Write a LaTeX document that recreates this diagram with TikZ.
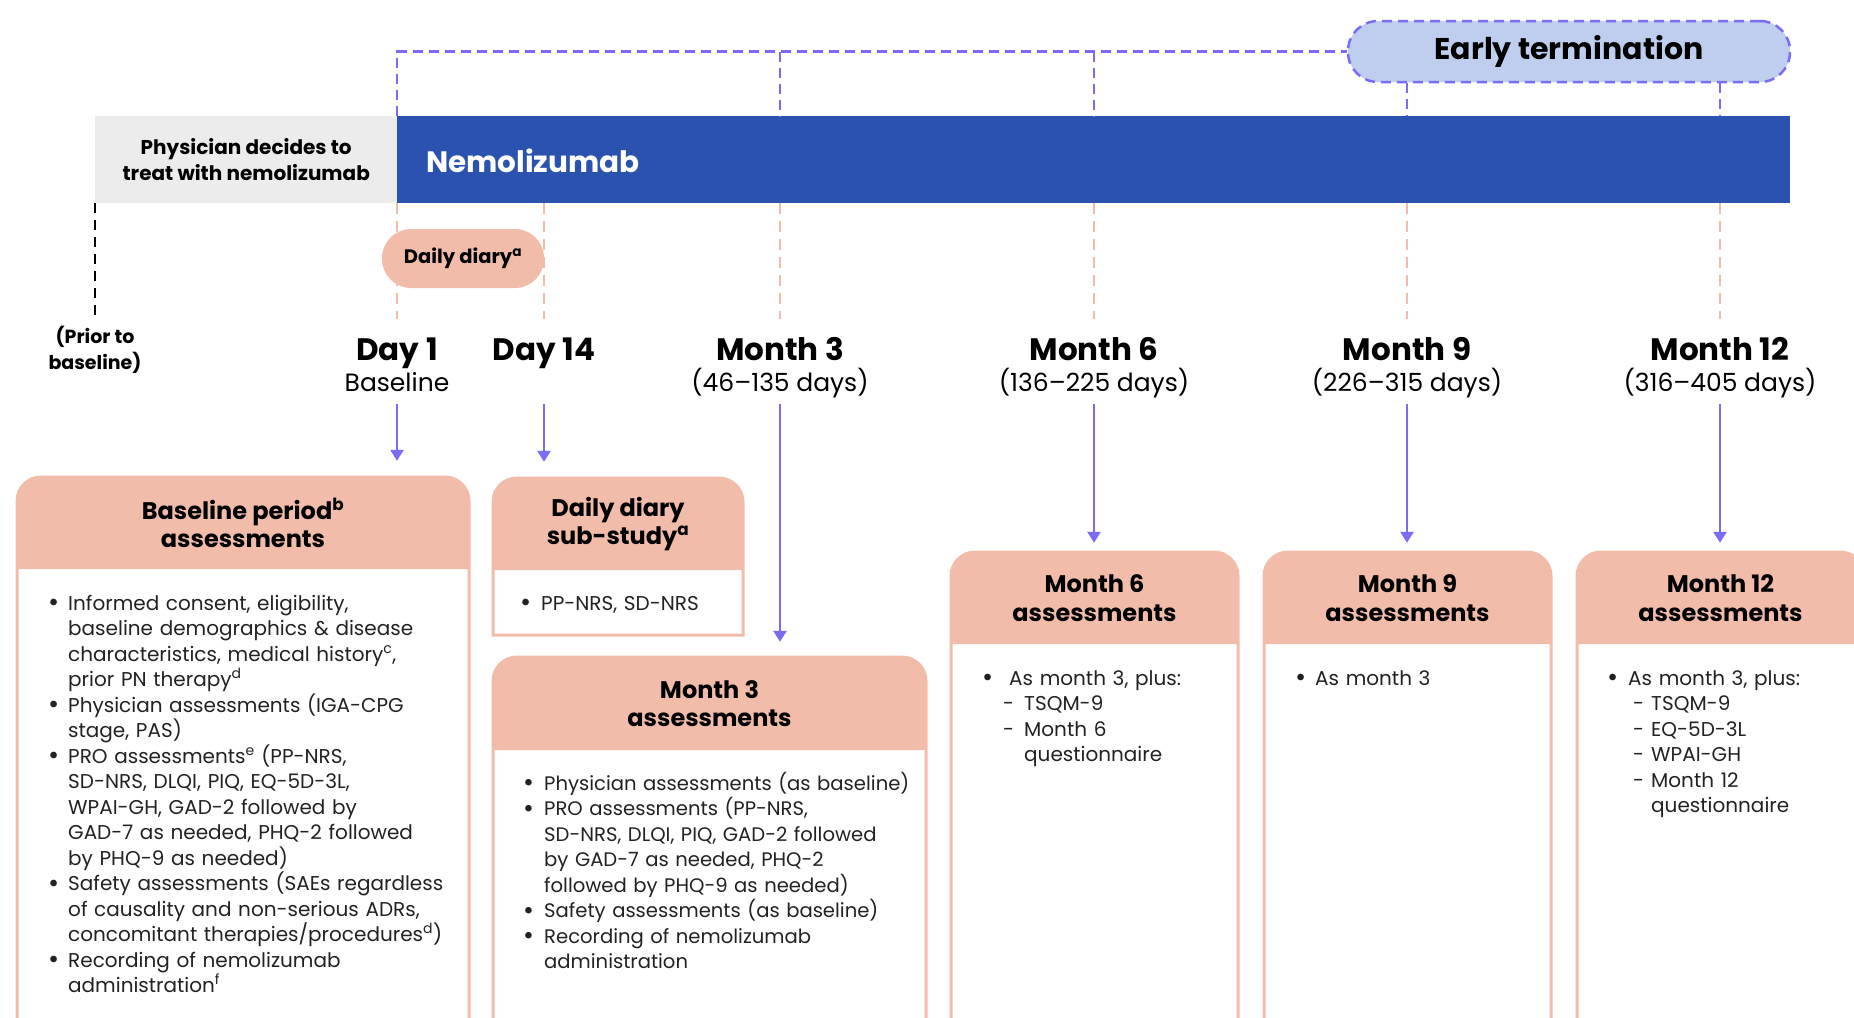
\documentclass[tikz,border=0pt]{standalone}
\usepackage{fontspec}
\setmainfont{Poppins}
\usetikzlibrary{arrows.meta}
\definecolor{purp}{HTML}{7B6CF6}
\definecolor{navy}{HTML}{2A52AE}
\definecolor{sal}{HTML}{F2BCAA}
\definecolor{lav}{HTML}{BFCDEF}
\definecolor{gry}{HTML}{ECECEC}
\definecolor{ink}{HTML}{222222}
\newcommand\bigbul{\raisebox{-0.09em}{\scalebox{1.35}{\textbullet}}}
\newcommand\bul[2]{\par\hangindent=#1\hangafter=1\noindent\hbox to #1{\bigbul\hfil}#2\par}
\newcommand\dsh[3]{\par\hangindent=#2\hangafter=1\noindent\hbox to #2{\hspace*{#1}-\hfil}#3\par}
\newcommand\abox[5]{%
\fill[white] (#1,#5) -- (#1,#3+24) .. controls (#1,#3+10.75) and (#1+10.75,#3) .. (#1+24,#3) -- (#2-24,#3) .. controls (#2-10.75,#3) and (#2,#3+10.75) .. (#2,#3+24) -- (#2,#5) -- cycle;
\fill[sal] (#1,#4) -- (#1,#3+24) .. controls (#1,#3+10.75) and (#1+10.75,#3) .. (#1+24,#3) -- (#2-24,#3) .. controls (#2-10.75,#3) and (#2,#3+10.75) .. (#2,#3+24) -- (#2,#4) -- cycle;
\draw[sal, line width=3pt] (#1,#5) -- (#1,#3+24) .. controls (#1,#3+10.75) and (#1+10.75,#3) .. (#1+24,#3) -- (#2-24,#3) .. controls (#2-10.75,#3) and (#2,#3+10.75) .. (#2,#3+24) -- (#2,#5) -- cycle;}
\tikzset{
 pdash/.style={draw=purp, line width=2.5pt, dash pattern=on 10pt off 6pt},
 sdash/.style={draw=sal, line width=2.2pt, dash pattern=on 11pt off 7pt},
 kdash/.style={draw=black, line width=2.5pt, dash pattern=on 10pt off 7pt},
 arr/.style={draw=purp, line width=2.5pt, -{Triangle[length=11pt,width=13pt]}},
 tlab/.style={font=\fontsize{31}{36}\selectfont\bfseries, inner sep=0pt, anchor=base},
 dlab/.style={font=\fontsize{25}{30}\selectfont, inner sep=0pt, anchor=base},
 hdr/.style={font=\fontsize{24}{28.5}\selectfont\bfseries, align=center, inner sep=0pt},
 body/.style={font=\fontsize{20}{25.5}\selectfont, text=ink, text width=440pt, align=left, inner sep=0pt, anchor=base west},
}
\begin{document}
\begin{tikzpicture}[x=1pt,y=-1pt]
\useasboundingbox (0,0) rectangle (1854,1017);
\clip (0,0) rectangle (1854,1017);
% bars
\node[fill=gry, minimum width=302, minimum height=87, anchor=north west, inner sep=0pt, align=center,
  font=\fontsize{20}{26}\selectfont\bfseries] (phys) at (95,116) {Physician decides to\\treat with nemolizumab};
\node[fill=navy, minimum width=1393, minimum height=87, anchor=north west, inner sep=0pt] (bar) at (397,116) {};
\node[anchor=west, text=white, font=\fontsize{29.5}{34}\selectfont\bfseries, inner sep=0pt] (nemo) at (426,161) {Nemolizumab};
% early termination
\node[fill=lav, draw=purp, line width=2.5pt, dash pattern=on 10pt off 6pt, rounded corners=30pt,
  minimum width=442, minimum height=61, inner sep=0pt, font=\fontsize{30}{34}\selectfont\bfseries] (et) at (1569,51.5) {Early termination};
% timepoint labels
\node[tlab] (t1) at (397,360) {Day 1};
\node[dlab] (t1s) at (397,391) {Baseline};
\node[tlab] (t2) at (544,360) {Day 14};
\node[tlab] (t3) at (780,360) {Month 3};
\node[dlab] (t3s) at (780,391) {(46–135 days)};
\node[tlab] (t4) at (1094,360) {Month 6};
\node[dlab] (t4s) at (1094,391) {(136–225 days)};
\node[tlab] (t5) at (1407,360) {Month 9};
\node[dlab] (t5s) at (1407,391) {(226–315 days)};
\node[tlab] (t6) at (1720,360) {Month 12};
\node[dlab] (t6s) at (1720,391) {(316–405 days)};
\node[anchor=base, inner sep=0pt, align=center, font=\fontsize{19}{26}\selectfont\bfseries] (prior) at (95,369.5) {(Prior to\\baseline)};
% dashed connectors
\draw[pdash] (bar.north west) |- (et.west);
\draw[pdash] (t3 |- et.west) -- (t3 |- bar.north);
\draw[pdash] (t4 |- et.west) -- (t4 |- bar.north);
\draw[pdash] (t5 |- et.south) -- (t5 |- bar.north);
\draw[pdash] (t6 |- et.south) -- (t6 |- bar.north);
\foreach \t in {t1,t2,t3,t4,t5,t6}{\draw[sdash, shorten >=41pt] (\t |- bar.south) -- (\t.base);}
\draw[kdash, shorten >=50.5pt] (phys.south west) -- (prior.base);
\node[fill=sal, rounded corners=29pt, minimum width=162, minimum height=59, inner sep=0pt,
  font=\fontsize{19.5}{24}\selectfont\bfseries] (dd) at (463,258.5) {Daily diary\textsuperscript{a}};
% boxes
\abox{17}{469}{477}{569}{1040}
\abox{493}{743}{478}{570}{635}
\abox{493}{926}{657}{750}{1040}
\abox{951}{1238}{552}{644}{1040}
\abox{1264}{1551}{552}{644}{1040}
\abox{1577}{1864}{552}{644}{1040}
\node[hdr, minimum width=452, minimum height=92] (b1) at (243,523) {Baseline period\textsuperscript{b}\\assessments};
\node[hdr, minimum width=250, minimum height=92] (b2) at (618,524) {Daily diary\\sub-study\textsuperscript{a}};
\node[hdr, minimum width=433, minimum height=93] (b3) at (709.5,703.5) {Month 3\\assessments};
\node[hdr, minimum width=287, minimum height=92] (b4) at (1094.5,598) {Month 6\\assessments};
\node[hdr, minimum width=287, minimum height=92] (b5) at (1407.5,598) {Month 9\\assessments};
\node[hdr, minimum width=287, minimum height=92] (b6) at (1720.5,598) {Month 12\\assessments};
\node[body] (b1t) at (48,584.5) {%
\bul{20pt}{Informed consent, eligibility,\newline baseline demographics \& disease\newline characteristics, medical history\textsuperscript{c},\newline prior PN therapy\textsuperscript{d}}%
\bul{20pt}{Physician assessments (IGA-CPG\newline stage, PAS)}%
\bul{20pt}{PRO assessments\textsuperscript{e} (PP-NRS,\newline SD-NRS, DLQI, PIQ, EQ-5D-3L,\newline WPAI-GH, GAD-2 followed by\newline GAD-7 as needed, PHQ-2 followed\newline by PHQ-9 as needed)}%
\bul{20pt}{Safety assessments (SAEs regardless\newline of causality and non-serious ADRs,\newline concomitant therapies/procedures\textsuperscript{d})}%
\bul{20pt}{Recording of nemolizumab\newline administration\textsuperscript{f}}};
\node[body] (b2t) at (520,584.5) {\bul{21pt}{PP-NRS, SD-NRS}};
\node[body, font=\fontsize{19.6}{25.5}\selectfont] (b3t) at (523,764.5) {%
\bul{21pt}{Physician assessments (as baseline)}%
\bul{21pt}{PRO assessments (PP-NRS,\newline SD-NRS, DLQI, PIQ, GAD-2 followed\newline by GAD-7 as needed, PHQ-2\newline followed by PHQ-9 as needed)}%
\bul{21pt}{Safety assessments (as baseline)}%
\bul{21pt}{Recording of nemolizumab\newline administration}};
\node[body] (b4t) at (982,659.5) {%
\bul{27pt}{As month 3, plus:}%
\dsh{21pt}{42pt}{TSQM-9}%
\dsh{21pt}{42pt}{Month 6\newline questionnaire}};
\node[body] (b5t) at (1295,659.5) {\bul{20pt}{As month 3}};
\node[body] (b6t) at (1607,659.5) {%
\bul{21pt}{As month 3, plus:}%
\dsh{26pt}{44pt}{TSQM-9}%
\dsh{26pt}{44pt}{EQ-5D-3L}%
\dsh{26pt}{44pt}{WPAI-GH}%
\dsh{26pt}{44pt}{Month 12\newline questionnaire}};
% arrows
\draw[arr, shorten <=13pt, shorten >=16pt] (t1s.base) -- (t1s.base |- b1.north);
\draw[arr, shorten <=13pt, shorten >=16pt] (t2 |- t1s.base) -- (t2 |- b2.north);
\draw[arr, shorten <=13pt, shorten >=15pt] (t3s.base) -- (t3s.base |- b3.north);
\draw[arr, shorten <=13pt, shorten >=9pt] (t4s.base) -- (t4s.base |- b4.north);
\draw[arr, shorten <=13pt, shorten >=9pt] (t5s.base) -- (t5s.base |- b5.north);
\draw[arr, shorten <=13pt, shorten >=9pt] (t6s.base) -- (t6s.base |- b6.north);
\end{tikzpicture}
\end{document}
